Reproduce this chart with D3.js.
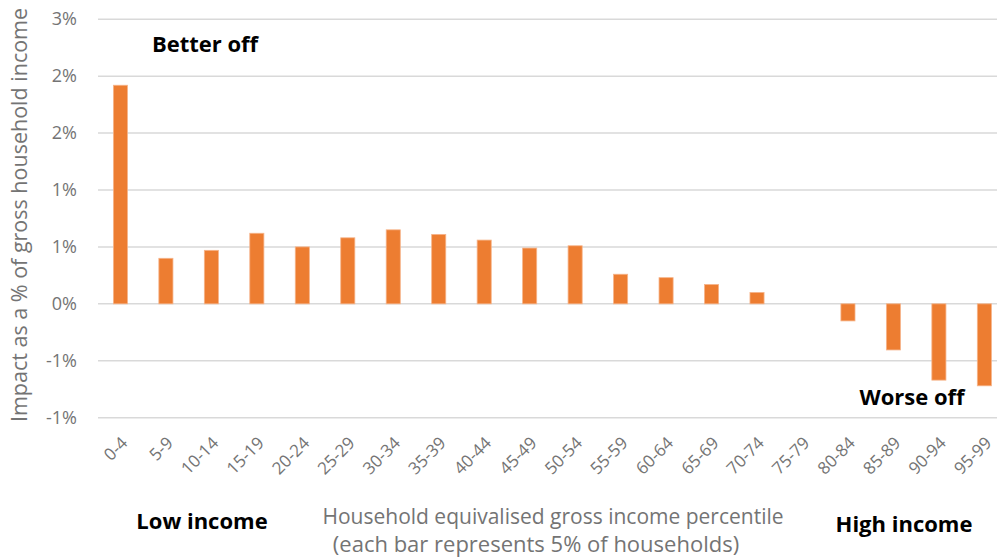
<!DOCTYPE html>
<html>
<head>
<meta charset="utf-8">
<script src="https://cdn.jsdelivr.net/npm/d3@7"></script>
<style>
  html, body { margin: 0; padding: 0; background: #fff; }
  svg { display: block; font-family: "Open Sans", "Noto Sans", sans-serif; }
</style>
</head>
<body>
<svg id="chart" width="997" height="560"></svg>
<script>
// Income percentile groups (5% of households each)
const categories = ["0-4","5-9","10-14","15-19","20-24","25-29","30-34","35-39","40-44","45-49",
                    "50-54","55-59","60-64","65-69","70-74","75-79","80-84","85-89","90-94","95-99"];
// Impact as % of gross household income
const impact = [1.92, 0.40, 0.47, 0.62, 0.50, 0.58, 0.65, 0.61, 0.56, 0.49,
                0.51, 0.26, 0.23, 0.17, 0.10, 0.00, -0.15, -0.405, -0.67, -0.72];
const yTicks = [-1, -0.5, 0, 0.5, 1, 1.5, 2, 2.5];

const svg = d3.select("#chart");
const grey = "#747474";

const x = d3.scaleBand()
  .domain(categories)
  .range([97.7, 1007.1])
  .paddingInner(0.69)
  .paddingOuter(0.345);

const y = d3.scaleLinear()
  .domain([-1, 2.5])
  .range([417.7, 19.2]);

// Whole-percent labels, halves rounded away from zero
const fmt = v => (Math.sign(v) * Math.round(Math.abs(v))).toString().replace("-0", "0") + "%";

// Gridlines
svg.append("g")
  .selectAll("line")
  .data(yTicks)
  .join("line")
  .attr("x1", 98)
  .attr("x2", 1007)
  .attr("y1", d => y(d))
  .attr("y2", d => y(d))
  .attr("stroke", "#d9d9d9")
  .attr("stroke-width", 1.5);

// Y axis labels
const yAxis = d3.axisLeft(y).tickValues(yTicks).tickFormat(fmt).tickSize(0).tickPadding(0);
svg.append("g")
  .attr("transform", "translate(77,0)")
  .call(yAxis)
  .call(g => g.select(".domain").remove())
  .call(g => g.selectAll("text")
    .attr("fill", grey)
    .style("font-size", "18px")
    .style("font-family", "\"Open Sans\", sans-serif"));

// Bars
svg.append("g")
  .selectAll("rect")
  .data(categories.map((c, i) => ({ c, v: impact[i] })))
  .join("rect")
  .attr("x", d => x(d.c))
  .attr("width", x.bandwidth())
  .attr("y", d => y(Math.max(0, d.v)))
  .attr("height", d => Math.abs(y(d.v) - y(0)))
  .attr("fill", "#ED7D31")
  .attr("stroke", "#f6b48a")
  .attr("stroke-width", d => d.v === 0 ? 0 : 0.8);

// X axis category labels, rotated
const xAxis = d3.axisBottom(x).tickSize(0).tickPadding(0);
svg.append("g")
  .attr("transform", "translate(0,430)")
  .call(xAxis)
  .call(g => g.select(".domain").remove())
  .call(g => g.selectAll("text")
    .attr("fill", grey)
    .attr("text-anchor", "end")
    .attr("dy", "0.35em")
    .attr("transform", "translate(4,10) rotate(-45)")
    .style("font-size", "17px")
    .style("font-family", "\"Open Sans\", sans-serif"));

// Y axis title
svg.append("text")
  .attr("transform", "translate(27,215) rotate(-90)")
  .attr("text-anchor", "middle")
  .attr("fill", grey)
  .style("font-size", "21.5px")
  .text("Impact as a % of gross household income");

// X axis title
const xt = svg.append("text")
  .attr("text-anchor", "middle")
  .attr("fill", grey)
  .style("font-size", "21px");
xt.append("tspan").attr("x", 553).attr("y", 524).text("Household equivalised gross income percentile");
xt.append("tspan").attr("x", 536).attr("y", 552).style("font-size", "22px").text("(each bar represents 5% of households)");

// Annotations
const notes = [
  { t: "Better off", x: 205, y: 52 },
  { t: "Worse off", x: 912, y: 405 },
  { t: "Low income", x: 202, y: 529 },
  { t: "High income", x: 904, y: 532 }
];
svg.append("g")
  .selectAll("text")
  .data(notes)
  .join("text")
  .attr("x", d => d.x)
  .attr("y", d => d.y)
  .attr("text-anchor", "middle")
  .attr("fill", "#000")
  .style("font-size", "22px")
  .style("font-weight", "bold")
  .text(d => d.t);
</script>
</body>
</html>
